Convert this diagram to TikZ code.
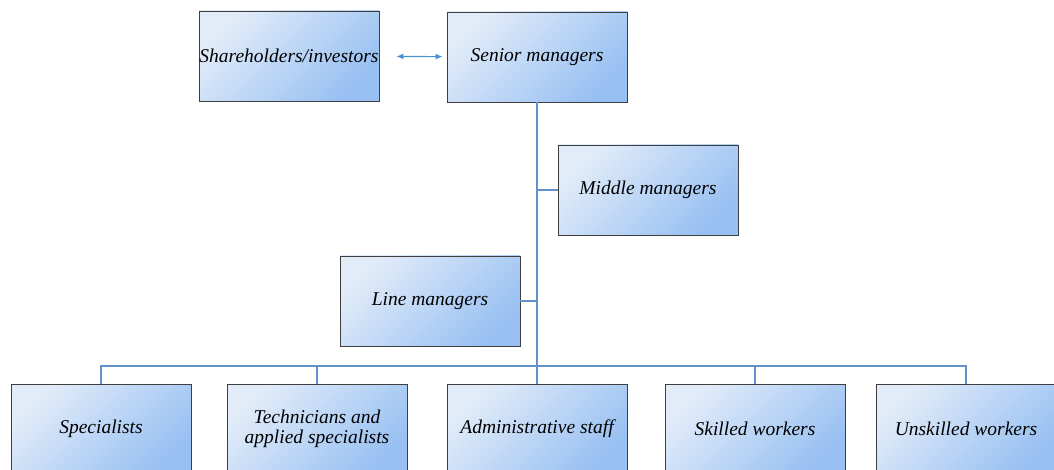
\documentclass[tikz,border=0pt]{standalone}
\usepackage{fontspec}
\setmainfont{Liberation Serif}
\usetikzlibrary{arrows.meta}

\definecolor{boxlight}{HTML}{E2ECF9}
\definecolor{boxdark}{HTML}{98C0F2}
\definecolor{boxedge}{HTML}{3F3F3F}
\definecolor{linkblue}{HTML}{6193CA}
\definecolor{arrowblue}{HTML}{4A8FD2}

\tikzset{
  orgbox/.style={draw=boxedge, line width=0.9pt,
    top color=boxlight, bottom color=boxdark, shading angle=45,
    minimum width=180pt, minimum height=90pt, inner sep=0pt,
    align=center, font=\fontsize{19.5}{20}\selectfont\itshape},
  link/.style={draw=linkblue, line width=1.3pt},
  twoway/.style={draw=arrowblue, line width=1.1pt,
    {Latex[length=7pt,width=6pt]}-{Latex[length=7pt,width=6pt]}}
}

\begin{document}
\begin{tikzpicture}[x=1pt,y=-1pt]
\clip (0,0) rectangle (1054,470);
\fill[white] (0,0) rectangle (1054,470);

% Top level
\node[orgbox] (share) at (289,56) {Shareholders/investors};
\node[orgbox] (senior) at (537,57) {Senior managers};

% Managers
\node[orgbox] (middle) at (648,190) {Middle managers};
\node[orgbox] (line) at (430,301) {Line managers};

% Staff
\node[orgbox] (spec) at (101,429) {Specialists};
\node[orgbox] (tech) at (317,429) {Technicians and\\applied specialists};
\node[orgbox] (admin) at (537,429) {Administrative staff};
\node[orgbox] (skill) at (755,429) {Skilled workers};
\node[orgbox] (unsk) at (966,429) {Unskilled workers};

% Links
\coordinate (bus) at (537,366);
\draw[twoway, shorten <=17pt, shorten >=4pt] (share) -- (senior);
\draw[link] (senior.south) -- (bus);
\draw[link] (middle.west) -- (middle.west -| senior.south);
\draw[link] (line.east) -- (line.east -| senior.south);
\draw[link] (spec.north) |- (bus) -| (unsk.north);
\foreach \n in {tech,admin,skill}
  \draw[link] (\n.north) -- (\n.north |- bus);
\end{tikzpicture}
\end{document}
